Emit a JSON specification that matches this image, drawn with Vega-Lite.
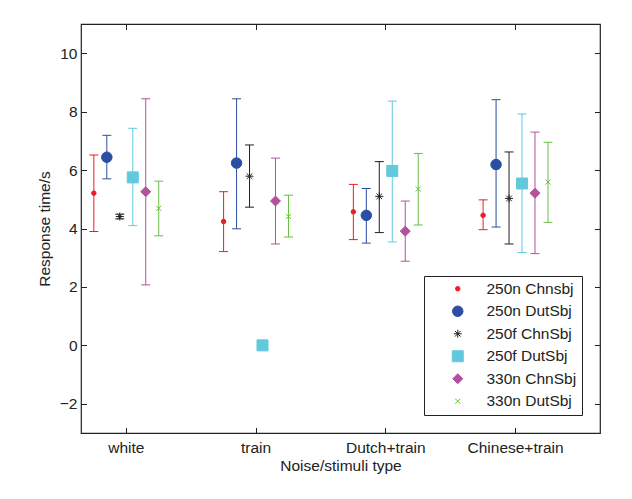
{
  "$schema": "https://vega.github.io/schema/vega-lite/v6.json",
  "width": 519,
  "height": 409,
  "autosize": "none",
  "padding": {"left": 81, "top": 24, "right": 32, "bottom": 66},
  "background": "white",
  "config": {
    "font": "Liberation Sans",
    "view": {"stroke": "#222222", "strokeWidth": 1.2},
    "axis": {
      "grid": false, "domain": false, "tickColor": "#222222", "tickWidth": 1, "tickSize": -5.5,
      "labelFontSize": 15.5, "labelColor": "#222222", "titleFontSize": 15.5,
      "titleFontWeight": "normal", "titleColor": "#222222"
    },
    "legend": {
      "orient": "none", "legendX": 343, "legendY": 252,
      "labelFontSize": 15.5, "labelColor": "#222222", "strokeColor": "#222222", "fillColor": "white",
      "padding": 5, "rowPadding": 5.5, "symbolOffset": 21, "labelOffset": 21, "symbolOpacity": 1,
      "symbolStrokeWidth": 1
    }
  },
  "data": {
    "values": [
      {"g": "white", "s": "250n Chnsbj", "v": 5.21, "lo": 3.90, "hi": 6.52},
      {"g": "white", "s": "250n DutSbj", "v": 6.44, "lo": 5.70, "hi": 7.19},
      {"g": "white", "s": "250f ChnSbj", "v": 4.41, "lo": 4.33, "hi": 4.49},
      {"g": "white", "s": "250f DutSbj", "v": 5.75, "lo": 4.10, "hi": 7.43},
      {"g": "white", "s": "330n ChnSbj", "v": 5.26, "lo": 2.07, "hi": 8.44},
      {"g": "white", "s": "330n DutSbj", "v": 4.69, "lo": 3.75, "hi": 5.62},
      {"g": "train", "s": "250n Chnsbj", "v": 4.24, "lo": 3.21, "hi": 5.26},
      {"g": "train", "s": "250n DutSbj", "v": 6.24, "lo": 3.99, "hi": 8.44},
      {"g": "train", "s": "250f ChnSbj", "v": 5.79, "lo": 4.73, "hi": 6.86},
      {"g": "train", "s": "250f DutSbj", "v": 0.0, "lo": 0.0, "hi": 0.0},
      {"g": "train", "s": "330n ChnSbj", "v": 4.94, "lo": 3.47, "hi": 6.41},
      {"g": "train", "s": "330n DutSbj", "v": 4.41, "lo": 3.71, "hi": 5.14},
      {"g": "Dutch+train", "s": "250n Chnsbj", "v": 4.57, "lo": 3.62, "hi": 5.51},
      {"g": "Dutch+train", "s": "250n DutSbj", "v": 4.45, "lo": 3.50, "hi": 5.37},
      {"g": "Dutch+train", "s": "250f ChnSbj", "v": 5.10, "lo": 3.86, "hi": 6.29},
      {"g": "Dutch+train", "s": "250f DutSbj", "v": 5.97, "lo": 3.54, "hi": 8.36},
      {"g": "Dutch+train", "s": "330n ChnSbj", "v": 3.91, "lo": 2.88, "hi": 4.94},
      {"g": "Dutch+train", "s": "330n DutSbj", "v": 5.35, "lo": 4.12, "hi": 6.57},
      {"g": "Chinese+train", "s": "250n Chnsbj", "v": 4.45, "lo": 3.96, "hi": 4.98},
      {"g": "Chinese+train", "s": "250n DutSbj", "v": 6.19, "lo": 4.05, "hi": 8.41},
      {"g": "Chinese+train", "s": "250f ChnSbj", "v": 5.03, "lo": 3.47, "hi": 6.62},
      {"g": "Chinese+train", "s": "250f DutSbj", "v": 5.54, "lo": 3.18, "hi": 7.92},
      {"g": "Chinese+train", "s": "330n ChnSbj", "v": 5.21, "lo": 3.14, "hi": 7.30},
      {"g": "Chinese+train", "s": "330n DutSbj", "v": 5.59, "lo": 4.21, "hi": 6.95}
    ]
  },
  "resolve": {"axis": {"x": "independent", "y": "independent"}},
  "layer": [
    {
      "mark": {"type": "rule", "strokeWidth": 1},
      "encoding": {
        "x": {"field": "g", "type": "nominal", "sort": ["white", "train", "Dutch+train", "Chinese+train"],
              "scale": {"paddingInner": 0.302, "paddingOuter": 0.151, "align": 0},
              "axis": {"orient": "bottom", "title": "Noise/stimuli type", "labelAngle": 0, "labelPadding": 12.5, "titlePadding": 3}},
        "xOffset": {"field": "s", "type": "nominal",
                    "sort": ["250n Chnsbj", "250n DutSbj", "250f ChnSbj", "250f DutSbj", "330n ChnSbj", "330n DutSbj"],
                    "scale": {"paddingInner": 0, "paddingOuter": 0.49}},
        "y": {"field": "lo", "type": "quantitative", "scale": {"domain": [-3, 11], "nice": false, "zero": false},
              "axis": {"orient": "left", "title": "Response time/s", "values": [-2, 0, 2, 4, 6, 8, 10], "labelPadding": 9.5, "titlePadding": 7}},
        "y2": {"field": "hi"},
        "color": {"field": "s", "type": "nominal", "legend": null,
                  "scale": {"domain": ["250f ChnSbj", "250f DutSbj", "250n Chnsbj", "250n DutSbj", "330n ChnSbj", "330n DutSbj"],
                            "range": ["#231f20", "#62c9dd", "#ee1d23", "#2b4ea2", "#b3519f", "#6abd45"]}}
      }
    },
    {
      "mark": {"type": "tick", "size": 9, "thickness": 1, "orient": "horizontal", "opacity": 1},
      "encoding": {
        "x": {"field": "g", "type": "nominal", "sort": ["white", "train", "Dutch+train", "Chinese+train"],
              "scale": {"paddingInner": 0.302, "paddingOuter": 0.151, "align": 0},
              "axis": {"orient": "top", "title": null, "labels": false}},
        "xOffset": {"field": "s", "type": "nominal",
                    "sort": ["250n Chnsbj", "250n DutSbj", "250f ChnSbj", "250f DutSbj", "330n ChnSbj", "330n DutSbj"],
                    "scale": {"paddingInner": 0, "paddingOuter": 0.49}},
        "y": {"field": "lo", "type": "quantitative", "scale": {"domain": [-3, 11], "nice": false, "zero": false},
              "axis": {"orient": "right", "title": null, "labels": false, "values": [-2, 0, 2, 4, 6, 8, 10]}},
        "color": {"field": "s", "type": "nominal", "legend": null}
      }
    },
    {
      "mark": {"type": "tick", "size": 9, "thickness": 1, "orient": "horizontal", "opacity": 1},
      "encoding": {
        "x": {"field": "g", "type": "nominal", "sort": ["white", "train", "Dutch+train", "Chinese+train"], "axis": null},
        "xOffset": {"field": "s", "type": "nominal",
                    "sort": ["250n Chnsbj", "250n DutSbj", "250f ChnSbj", "250f DutSbj", "330n ChnSbj", "330n DutSbj"]},
        "y": {"field": "hi", "type": "quantitative", "axis": null},
        "color": {"field": "s", "type": "nominal", "legend": null}
      }
    },
    {
      "mark": {"type": "point", "opacity": 1, "strokeWidth": 1},
      "encoding": {
        "x": {"field": "g", "type": "nominal", "sort": ["white", "train", "Dutch+train", "Chinese+train"], "axis": null},
        "xOffset": {"field": "s", "type": "nominal",
                    "sort": ["250n Chnsbj", "250n DutSbj", "250f ChnSbj", "250f DutSbj", "330n ChnSbj", "330n DutSbj"]},
        "y": {"field": "v", "type": "quantitative", "axis": null},
        "fill": {"field": "s", "type": "nominal", "title": null,
                 "scale": {"domain": ["250n Chnsbj", "250n DutSbj", "250f ChnSbj", "250f DutSbj", "330n ChnSbj", "330n DutSbj"],
                           "range": ["#ee1d23", "#2b4ea2", "transparent", "#62c9dd", "#b3519f", "transparent"]}},
        "stroke": {"field": "s", "type": "nominal", "title": null,
                   "scale": {"domain": ["250n Chnsbj", "250n DutSbj", "250f ChnSbj", "250f DutSbj", "330n ChnSbj", "330n DutSbj"],
                             "range": ["#ee1d23", "#2b4ea2", "#231f20", "#62c9dd", "#b3519f", "#6abd45"]}},
        "shape": {"field": "s", "type": "nominal", "title": null,
                  "scale": {"domain": ["250n Chnsbj", "250n DutSbj", "250f ChnSbj", "250f DutSbj", "330n ChnSbj", "330n DutSbj"],
                            "range": ["circle", "circle", "M-1,0L1,0M0,-1L0,1M-0.7,-0.7L0.7,0.7M-0.7,0.7L0.7,-0.7", "square", "diamond", "M-1,-1L1,1M-1,1L1,-1"]}},
        "size": {"field": "s", "type": "nominal", "title": null,
                 "scale": {"type": "ordinal", "domain": ["250n Chnsbj", "250n DutSbj", "250f ChnSbj", "250f DutSbj", "330n ChnSbj", "330n DutSbj"],
                           "range": [20, 110, 64, 121, 100, 25]}}
      }
    }
  ]
}
